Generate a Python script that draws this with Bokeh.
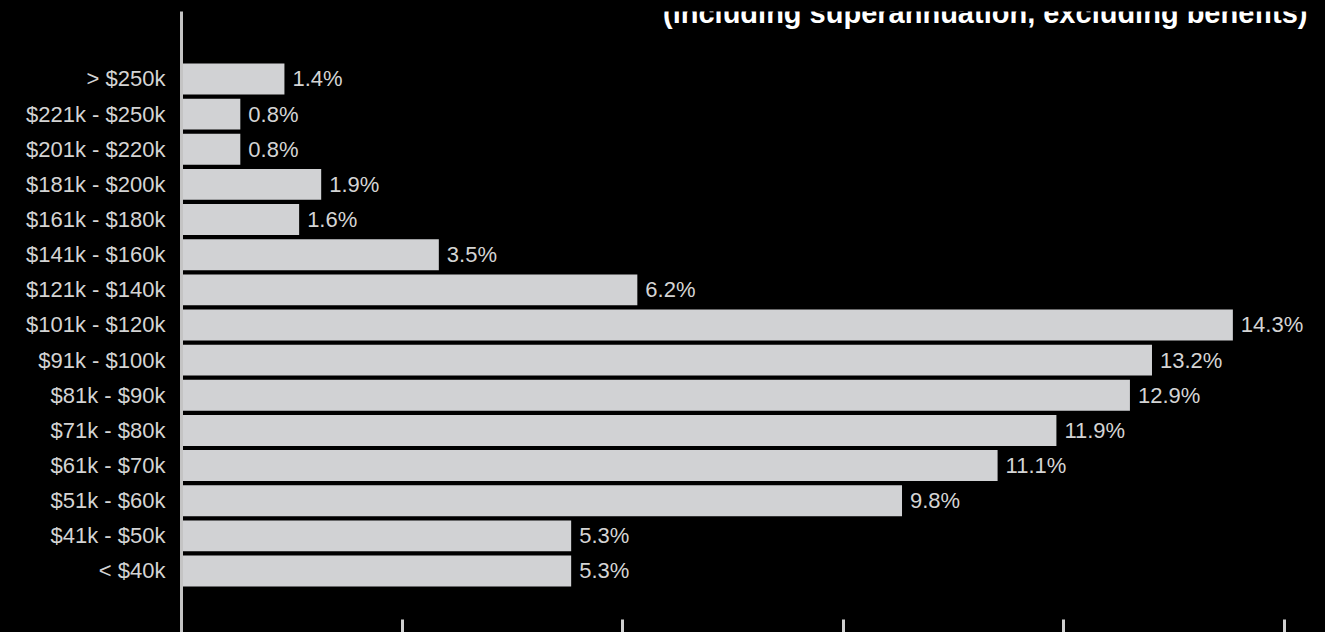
from bokeh.plotting import figure
from bokeh.models import Range1d, FixedTicker, Label, ColumnDataSource
from bokeh.embed import file_html
from bokeh.resources import INLINE
from bokeh.core.properties import value

# ---- data (top to bottom as in the chart) ----
categories = ["> $250k", "$221k - $250k", "$201k - $220k", "$181k - $200k",
              "$161k - $180k", "$141k - $160k", "$121k - $140k", "$101k - $120k",
              "$91k - $100k", "$81k - $90k", "$71k - $80k", "$61k - $70k",
              "$51k - $60k", "$41k - $50k", "< $40k"]
shares = [1.4, 0.8, 0.8, 1.9, 1.6, 3.5, 6.2, 14.3, 13.2, 12.9, 11.9, 11.1, 9.8, 5.3, 5.3]
x_ticks = [0, 3, 6, 9, 12, 15]
title_text = "(including superannuation, excluding benefits)"

n = len(categories)
ypos = [n - 1 - i for i in range(n)]
labels = [f"{v:.1f}%" for v in shares]
src = ColumnDataSource(dict(y=ypos, share=shares, label=labels))

FONT = "Liberation Sans"
TXT = "#d4d4d4"

p = figure(width=1325, height=632, output_backend="svg", toolbar_location=None,
           x_range=Range1d(0, 15.56), y_range=Range1d(-1.75, 15.92),
           min_border_left=181, min_border_top=11, min_border_right=0, min_border_bottom=0,
           background_fill_color="black", border_fill_color=None)
p.outline_line_color = None
p.styles = {"background-color": "black"}

p.hbar(y="y", left=0, right="share", height=0.88, source=src,
       fill_color="#d1d2d4", line_color=None)
p.text(x="share", y="y", text="label", source=src, x_offset=8,
       text_align="left", text_baseline="middle",
       text_font=value(FONT), text_font_size="22px", text_color=TXT)

p.grid.visible = False

xa = p.xaxis[0]
xa.ticker = FixedTicker(ticks=x_ticks)
xa.major_label_overrides = {t: "" for t in x_ticks}
xa.major_label_text_font_size = "1px"
xa.major_label_standoff = 0
xa.major_tick_in = 13
xa.major_tick_out = 0
xa.major_tick_line_color = "#d0d0d0"
xa.major_tick_line_width = 3
xa.minor_tick_line_color = None
xa.axis_line_color = None

ya = p.yaxis[0]
ya.ticker = FixedTicker(ticks=ypos)
ya.major_label_overrides = {y: c for y, c in zip(ypos, categories)}
ya.major_tick_line_color = None
ya.major_tick_in = 0
ya.major_tick_out = 0
ya.minor_tick_line_color = None
ya.major_label_standoff = 16
ya.axis_line_color = "#c4c4c4"
ya.axis_line_width = 3
ya.major_label_text_font = FONT
ya.major_label_text_font_size = "22px"
ya.major_label_text_color = TXT

title = Label(x=1126, y=620, x_units="screen", y_units="screen", text=title_text,
              text_align="right", text_baseline="alphabetic",
              text_font=FONT, text_font_style="bold", text_font_size="29px",
              text_color="white")
p.add_layout(title)

open("out.html", "w").write(file_html(p, INLINE))
